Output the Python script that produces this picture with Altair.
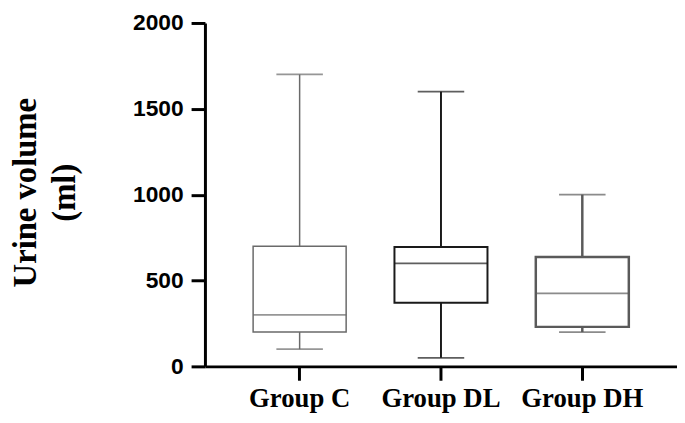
import altair as alt
import pandas as pd

groups = ["Group C", "Group DL", "Group DH"]
mins = [100, 50, 200]
q1s = [200, 370, 230]
medians = [300, 600, 425]
q3s = [700, 695, 637]
maxs = [1700, 1600, 1000]
line_colors = ["#6a6a6a", "#1a1a1a", "#5a5a5a"]
line_widths = [1.5, 2.5, 1.5]
y_ticks = [0, 500, 1000, 1500, 2000]

df = pd.DataFrame({"group": groups, "min": mins, "q1": q1s, "median": medians,
                   "q3": q3s, "max": maxs})

xenc = alt.X("group:N", sort=groups, title=None,
             scale=alt.Scale(paddingInner=0, paddingOuter=0.17),
             axis=alt.Axis(labelAngle=0, labelFont="Liberation Serif", labelFontWeight="bold",
                           labelFontSize=27, labelColor="black", labelPadding=6,
                           tickSize=14, tickWidth=3, tickColor="black",
                           domainWidth=3, domainColor="black"))
yscale = alt.Scale(domain=[0, 2000], nice=False)
yaxis = alt.Axis(values=y_ticks, format="d", grid=False, labelFont="Liberation Sans",
                 labelFontWeight="bold",
                 labelFontSize=23, labelColor="black", labelPadding=8,
                 tickSize=14, tickWidth=3, tickColor="black",
                 domainWidth=3, domainColor="black",
                 title=["Urine volume", "(ml)"], titleFont="Liberation Serif",
                 titleFontWeight="bold", titleFontSize=33, titleLineHeight=39,
                 titleColor="black", titleAngle=-90, titleX=-164, titleY=171,
                 titleBaseline="bottom", titleAlign="center")

col = alt.Color("group:N", scale=alt.Scale(domain=groups, range=line_colors), legend=None)
scol = alt.Stroke("group:N", scale=alt.Scale(domain=groups, range=line_colors), legend=None)
sw = alt.StrokeWidth("group:N", scale=alt.Scale(domain=groups, range=line_widths), legend=None)

base = alt.Chart(df)

whisk_low = base.mark_rule().encode(x=xenc, y=alt.Y("min:Q", scale=yscale, axis=yaxis),
                                      y2="q1:Q", stroke=scol, strokeWidth=sw)
whisk_high = base.mark_rule().encode(x=xenc, y=alt.Y("q3:Q", scale=yscale, axis=yaxis),
                                       y2="max:Q", stroke=scol, strokeWidth=sw)
box = base.mark_bar(size=94, fill="white").encode(
    x=xenc, y=alt.Y("q1:Q", scale=yscale, axis=yaxis), y2="q3:Q", stroke=scol, strokeWidth=sw)
med = base.mark_tick(size=94, thickness=1.8).encode(
    x=xenc, y=alt.Y("median:Q", scale=yscale, axis=yaxis), color=col)
cap_low = base.mark_tick(size=47, thickness=1.8).encode(
    x=xenc, y=alt.Y("min:Q", scale=yscale, axis=yaxis), color=col)
cap_high = base.mark_tick(size=47, thickness=1.8).encode(
    x=xenc, y=alt.Y("max:Q", scale=yscale, axis=yaxis), color=col)

chart = alt.layer(whisk_low, whisk_high, box, med, cap_low, cap_high).properties(
    width=477, height=347,
    autosize=alt.AutoSizeParams(type="none"),
    padding={"left": 199, "top": 13, "right": 0, "bottom": 47},
).configure_view(stroke=None)

chart.save("out.html", embed_options={"renderer": "svg", "actions": False})
